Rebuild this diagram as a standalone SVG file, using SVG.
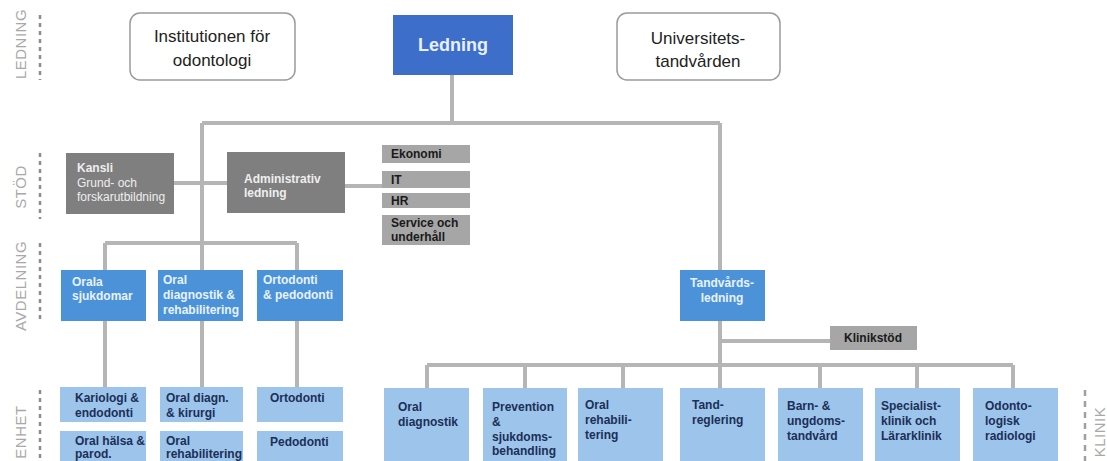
<svg xmlns="http://www.w3.org/2000/svg" width="1107" height="461" viewBox="0 0 1107 461">
  <style>
    text { font-family: "Liberation Sans", Arial, sans-serif; }
    .lvl { font-size: 15px; fill: #a8a8a8; letter-spacing: 0.5px; }
    .dash { stroke: #8c8c8c; stroke-width: 2.5; stroke-dasharray: 4 4; fill: none; }
    .wire { stroke: #b5b5b5; stroke-width: 4; fill: none; }
    .outline { fill: #ffffff; stroke: #9a9a9a; stroke-width: 1.5; }
    .outline-t { font-size: 17px; fill: #222; text-anchor: middle; }
    .top { fill: #3d6fca; }
    .top-t { font-size: 18px; font-weight: bold; fill: #e8f0ff; text-anchor: middle; }
    .dept { fill: #4c92d8; }
    .dept-t { font-size: 12px; font-weight: bold; fill: #e8f2ff; }
    .unit { fill: #9dc4ea; }
    .unit-t { font-size: 12px; font-weight: bold; fill: #1b2f57; }
    .sup { fill: #7f7f7f; }
    .sup-t { font-size: 12px; fill: #eeeeee; }
    .svc { fill: #a6a6a6; }
    .svc-t { font-size: 12px; font-weight: bold; fill: #1a1a1a; }
  </style>

  <!-- level labels on the margins -->
  <g id="levels">
    <text class="lvl" transform="translate(26 44) rotate(-90)" text-anchor="middle">LEDNING</text>
    <line class="dash" x1="40" y1="15" x2="40" y2="80"/>
    <text class="lvl" transform="translate(26 187) rotate(-90)" text-anchor="middle">STÖD</text>
    <line class="dash" x1="40" y1="153" x2="40" y2="219"/>
    <text class="lvl" transform="translate(26 286) rotate(-90)" text-anchor="middle">AVDELNING</text>
    <line class="dash" x1="40" y1="243" x2="40" y2="322"/>
    <text class="lvl" transform="translate(26 432) rotate(-90)" text-anchor="middle">ENHET</text>
    <line class="dash" x1="40" y1="390" x2="40" y2="461"/>
    <text class="lvl" transform="translate(1105 432) rotate(-90)" text-anchor="middle">KLINIK</text>
    <line class="dash" x1="1085" y1="390" x2="1085" y2="461" style="stroke:#a0a0a0;stroke-dasharray:6 5"/>
  </g>

  <!-- connectors -->
  <g id="connectors">
    <polyline class="wire" points="452,75 452,123"/>
    <polyline class="wire" points="202,123 720,123"/>
    <polyline class="wire" points="202,123 202,243"/>
    <polyline class="wire" points="174,183 227,183"/>
    <polyline class="wire" points="345,186 382,186"/>
    <polyline class="wire" points="105,243 297,243"/>
    <polyline class="wire" points="105,243 105,270"/>
    <polyline class="wire" points="202,243 202,270"/>
    <polyline class="wire" points="297,243 297,270"/>
    <polyline class="wire" points="105,321 105,387"/>
    <polyline class="wire" points="202,321 202,387"/>
    <polyline class="wire" points="297,321 297,387"/>
    <polyline class="wire" points="720,123 720,270"/>
    <polyline class="wire" points="720,321 720,388"/>
    <polyline class="wire" points="720,341 830,341"/>
    <polyline class="wire" points="427,365 1013,365"/>
    <polyline class="wire" points="427,365 427,388"/>
    <polyline class="wire" points="525,365 525,388"/>
    <polyline class="wire" points="623,365 623,388"/>
    <polyline class="wire" points="820,365 820,388"/>
    <polyline class="wire" points="917,365 917,388"/>
    <polyline class="wire" points="1013,365 1013,388"/>
  </g>

  <!-- top management -->
  <g id="institutionen">
    <rect class="outline" x="130" y="13" width="165" height="67" rx="10"/>
    <text class="outline-t"><tspan x="212" y="42">Institutionen för</tspan><tspan x="212" y="66">odontologi</tspan></text>
  </g>
  <g id="ledning">
    <rect class="top" x="393" y="15" width="120" height="60"/>
    <text class="top-t" x="453" y="51">Ledning</text>
  </g>
  <g id="universitetstandvarden">
    <rect class="outline" x="617" y="13" width="163" height="67" rx="10"/>
    <text class="outline-t"><tspan x="698" y="44">Universitets-</tspan><tspan x="698" y="67">tandvården</tspan></text>
  </g>

  <!-- support -->
  <g id="kansli">
    <rect class="sup" x="66" y="153" width="108" height="61"/>
    <text class="sup-t"><tspan x="77" y="172" font-weight="bold">Kansli</tspan><tspan x="77" y="187">Grund- och</tspan><tspan x="77" y="201">forskarutbildning</tspan></text>
  </g>
  <g id="administrativ">
    <rect class="sup" x="227" y="152" width="118" height="61"/>
    <text class="sup-t" font-weight="bold"><tspan x="244" y="183">Administrativ</tspan><tspan x="244" y="197">ledning</tspan></text>
  </g>
  <g id="ekonomi">
    <rect class="svc" x="382" y="145" width="88" height="18"/>
    <text class="svc-t" x="391" y="158">Ekonomi</text>
  </g>
  <g id="it">
    <rect class="svc" x="382" y="171" width="88" height="17"/>
    <text class="svc-t" x="391" y="184">IT</text>
  </g>
  <g id="hr">
    <rect class="svc" x="382" y="193" width="88" height="15"/>
    <text class="svc-t" x="391" y="205">HR</text>
  </g>
  <g id="service">
    <rect class="svc" x="382" y="215" width="88" height="30"/>
    <text class="svc-t"><tspan x="391" y="227">Service och</tspan><tspan x="391" y="241">underhåll</tspan></text>
  </g>

  <!-- departments -->
  <g id="orala-sjukdomar">
    <rect class="dept" x="61" y="270" width="85" height="51"/>
    <text class="dept-t"><tspan x="72" y="286">Orala</tspan><tspan x="72" y="300">sjukdomar</tspan></text>
  </g>
  <g id="oral-diagnostik-rehab">
    <rect class="dept" x="158" y="270" width="85" height="51"/>
    <text class="dept-t"><tspan x="163" y="284">Oral</tspan><tspan x="163" y="299">diagnostik &amp;</tspan><tspan x="163" y="314">rehabilitering</tspan></text>
  </g>
  <g id="ortodonti-pedodonti">
    <rect class="dept" x="257" y="270" width="86" height="51"/>
    <text class="dept-t"><tspan x="263" y="284">Ortodonti</tspan><tspan x="263" y="299">&amp; pedodonti</tspan></text>
  </g>
  <g id="tandvardsledning">
    <rect class="dept" x="680" y="270" width="85" height="51"/>
    <text class="dept-t" text-anchor="middle"><tspan x="722" y="287">Tandvårds-</tspan><tspan x="722" y="302">ledning</tspan></text>
  </g>
  <g id="klinikstod">
    <rect class="svc" x="830" y="326" width="87" height="24"/>
    <text class="svc-t" x="873" y="342" text-anchor="middle">Klinikstöd</text>
  </g>

  <!-- units -->
  <g id="kariologi">
    <rect class="unit" x="60" y="387" width="86" height="35"/>
    <text class="unit-t"><tspan x="75" y="402">Kariologi &amp;</tspan><tspan x="75" y="417">endodonti</tspan></text>
  </g>
  <g id="oral-halsa">
    <rect class="unit" x="60" y="431" width="86" height="40"/>
    <text class="unit-t"><tspan x="75" y="445">Oral hälsa &amp;</tspan><tspan x="75" y="458">parod.</tspan></text>
  </g>
  <g id="oral-diagn-kirurgi">
    <rect class="unit" x="160" y="387" width="83" height="35"/>
    <text class="unit-t"><tspan x="166" y="402">Oral diagn.</tspan><tspan x="166" y="417">&amp; kirurgi</tspan></text>
  </g>
  <g id="oral-rehabilitering">
    <rect class="unit" x="160" y="431" width="83" height="40"/>
    <text class="unit-t"><tspan x="166" y="445">Oral</tspan><tspan x="166" y="458">rehabilitering</tspan></text>
  </g>
  <g id="ortodonti">
    <rect class="unit" x="257" y="387" width="86" height="35"/>
    <text class="unit-t" x="270" y="402">Ortodonti</text>
  </g>
  <g id="pedodonti">
    <rect class="unit" x="257" y="431" width="86" height="40"/>
    <text class="unit-t" x="270" y="446">Pedodonti</text>
  </g>

  <!-- clinics -->
  <g id="k-oral-diagnostik">
    <rect class="unit" x="384" y="388" width="85" height="80"/>
    <text class="unit-t"><tspan x="398" y="411">Oral</tspan><tspan x="398" y="426">diagnostik</tspan></text>
  </g>
  <g id="k-prevention">
    <rect class="unit" x="483" y="388" width="84" height="80"/>
    <text class="unit-t"><tspan x="492" y="411">Prevention</tspan><tspan x="492" y="426">&amp;</tspan><tspan x="492" y="441">sjukdoms-</tspan><tspan x="492" y="455">behandling</tspan></text>
  </g>
  <g id="k-oral-rehab">
    <rect class="unit" x="578" y="388" width="85" height="80"/>
    <text class="unit-t"><tspan x="585" y="409">Oral</tspan><tspan x="585" y="424">rehabili-</tspan><tspan x="585" y="439">tering</tspan></text>
  </g>
  <g id="k-tandreglering">
    <rect class="unit" x="680" y="388" width="85" height="80"/>
    <text class="unit-t"><tspan x="692" y="409">Tand-</tspan><tspan x="692" y="424">reglering</tspan></text>
  </g>
  <g id="k-barn">
    <rect class="unit" x="778" y="388" width="85" height="80"/>
    <text class="unit-t"><tspan x="787" y="410">Barn- &amp;</tspan><tspan x="787" y="425">ungdoms-</tspan><tspan x="787" y="440">tandvård</tspan></text>
  </g>
  <g id="k-specialist">
    <rect class="unit" x="875" y="388" width="85" height="80"/>
    <text class="unit-t"><tspan x="881" y="410">Specialist-</tspan><tspan x="881" y="425">klinik och</tspan><tspan x="881" y="440">Lärarklinik</tspan></text>
  </g>
  <g id="k-odontologisk">
    <rect class="unit" x="973" y="388" width="85" height="80"/>
    <text class="unit-t"><tspan x="985" y="410">Odonto-</tspan><tspan x="985" y="425">logisk</tspan><tspan x="985" y="440">radiologi</tspan></text>
  </g>
</svg>
